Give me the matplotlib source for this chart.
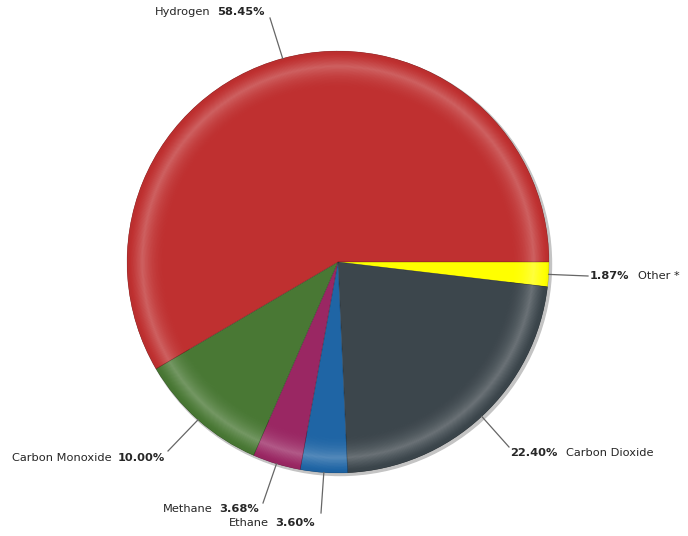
import numpy as np
import matplotlib
matplotlib.use("Agg")
import matplotlib.pyplot as plt
from matplotlib.patches import Wedge, Circle
from matplotlib.colors import to_rgb

# Gas composition, drawn clockwise from 3 o'clock
labels = ["Other *", "Carbon Dioxide", "Ethane", "Methane", "Carbon Monoxide", "Hydrogen"]
values = [1.87, 22.40, 3.60, 3.68, 10.00, 58.45]
colors = ["#FFFF00", "#3C464C", "#1F65A5", "#9A2763", "#497834", "#BF3030"]

W, H = 688, 536
fig = plt.figure(figsize=(W / 100, H / 100), dpi=100)
ax = fig.add_axes([0, 0, 1, 1])
ax.set_xlim(0, W)
ax.set_ylim(0, H)
ax.set_aspect("equal")
ax.axis("off")

cx, cy, R = 338, 274, 211

# soft drop shadow
ax.add_patch(Circle((cx + 2.0, cy - 2.0), R + 0.5, color="#c4c4c4", zorder=0))

wedges, _ = ax.pie(values, colors=colors, startangle=0, counterclock=False,
                   center=(cx, cy), radius=R, frame=False,
                   wedgeprops=dict(linewidth=0))
ax.set_xlim(0, W)
ax.set_ylim(0, H)


def shade(c, w):
    c = np.array(to_rgb(c))
    if w >= 0:
        return tuple(c + (1 - c) * w)
    return tuple(c * (1 + w))


# bevelled rim: light band near the outer edge
n = 50
r0, rp = 0.82, 0.93
for wdg, col in zip(wedges, colors):
    t1, t2 = wdg.theta1, wdg.theta2
    for i in range(n):
        a = r0 + (1 - r0) * i / n
        b = r0 + (1 - r0) * (i + 1) / n
        m = 0.5 * (a + b)
        if m < rp:
            w = 0.24 * ((m - r0) / (rp - r0)) ** 2
        else:
            s = (m - rp) / (1 - rp)
            w = 0.24 * (1 - s) ** 1.3 - 0.03 * s
        ax.add_patch(Wedge((cx, cy), b * R, t1, t2, width=(b - a) * R + 0.6,
                           facecolor=shade(col, w), edgecolor="none", zorder=2))
    # slice border on top of the rim
    ax.add_patch(Wedge((cx, cy), R, t1, t2, facecolor="none",
                       edgecolor=(0, 0, 0, 0.22), linewidth=0.4, zorder=3))

# label anchors (figure pixels, y measured from the top) and order of the two parts
label_pos = {
    "Other *": (590, 276, "pct_first"),
    "Carbon Dioxide": (510, 453, "pct_first"),
    "Ethane": (229, 523, "name_first"),
    "Methane": (163, 509, "name_first"),
    "Carbon Monoxide": (12, 458, "name_first"),
    "Hydrogen": (155, 12, "name_first"),
}
line_end = {
    "Other *": (588, 276),
    "Carbon Dioxide": (509, 447),
    "Ethane": (321, 513),
    "Methane": (263, 503),
    "Carbon Monoxide": (168, 451),
    "Hydrogen": (270, 18),
}

fig.canvas.draw()
renderer = fig.canvas.get_renderer()
fs = 8.2
tc = "#262626"

for wdg, lab, val in zip(wedges, labels, values):
    ang = np.deg2rad(0.5 * (wdg.theta1 + wdg.theta2))
    ex, ey = cx + R * np.cos(ang), cy + R * np.sin(ang)
    lx, ly = line_end[lab]
    ax.plot([ex, lx], [ey, H - ly], color="#666666", lw=0.9, zorder=4)

    x0, y0, mode = label_pos[lab]
    pct = f"{val:.2f}%"
    parts = [(lab, "normal"), (pct, "bold")] if mode == "name_first" else [(pct, "bold"), (lab, "normal")]
    x = x0
    for txt, wt in parts:
        t = ax.text(x, H - y0, txt, fontsize=fs, fontweight=wt, color=tc,
                    ha="left", va="center", zorder=5)
        bb = t.get_window_extent(renderer)
        x = x + bb.width + (6 if wt == "normal" else 9)

fig.savefig("out.png", dpi=100)
